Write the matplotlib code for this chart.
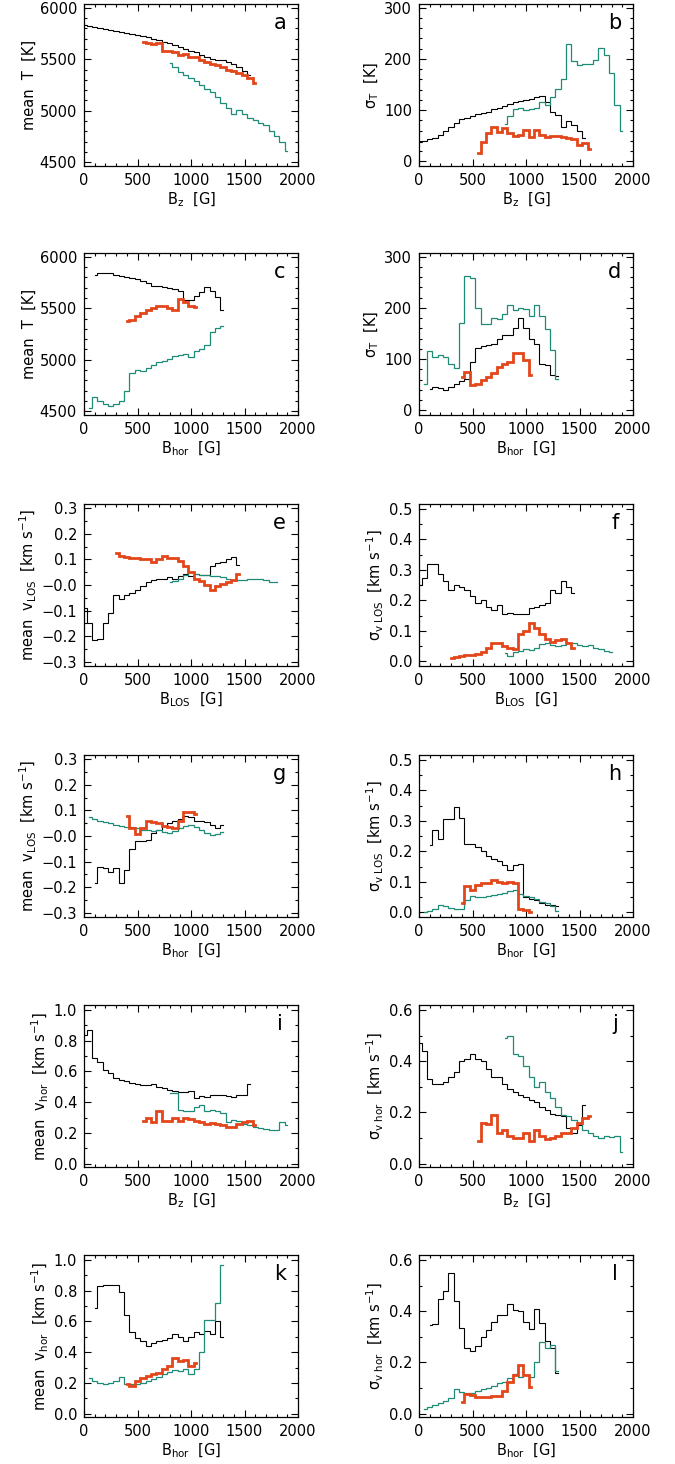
import matplotlib
matplotlib.use("Agg")
import matplotlib.pyplot as plt
from matplotlib.ticker import MultipleLocator, FixedLocator, FixedFormatter

plt.rcParams["font.family"] = ["DejaVu Sans"]
plt.rcParams["mathtext.default"] = "regular"

# bin centres of the field-strength histograms [G]
BINS = [0, 50, 100, 150, 200, 250, 300, 350, 400, 450, 500, 550, 600, 650,
        700, 750, 800, 850, 900, 950, 1000, 1050, 1100, 1150, 1200, 1250,
        1300, 1350, 1400, 1450, 1500, 1550, 1600, 1650, 1700, 1750, 1800,
        1850, 1900]

# (a) mean T vs Bz
a_black_from = 0
a_black = [5830, 5825, 5815, 5805, 5795, 5785, 5775, 5765, 5755, 5745, 5735,
           5725, 5712, 5700, 5690, 5670, 5655, 5640, 5620, 5600, 5580, 5565,
           5545, 5525, 5505, 5495, 5490, 5470, 5455, 5420, 5385, 5345]
a_orange_from = 550
a_orange = [5670, 5660, 5645, 5660, 5580, 5575, 5565, 5540, 5550, 5525, 5520,
            5490, 5470, 5450, 5440, 5425, 5400, 5385, 5370, 5345, 5320, 5270]
a_teal_from = 800
a_teal = [5465, 5420, 5380, 5350, 5320, 5290, 5250, 5215, 5180, 5135, 5080,
          5030, 4965, 5010, 4965, 4930, 4910, 4880, 4860, 4800, 4760, 4700, 4610]

# (b) sigma T vs Bz
b_black_from = 0
b_black = [38, 40, 44, 46, 52, 60, 68, 75, 82, 85, 88, 92, 94, 97, 102, 104,
           108, 112, 115, 117, 120, 122, 125, 127, 116, 97, 90, 68, 78, 70, 60, 45]
b_orange_from = 550
b_orange = [16, 38, 55, 68, 58, 65, 55, 50, 52, 62, 48, 62, 52, 48, 50, 50,
            48, 45, 43, 32, 35, 25]
b_teal_from = 800
b_teal = [73, 88, 103, 105, 100, 102, 105, 115, 110, 125, 142, 160, 228, 195,
          188, 190, 190, 198, 222, 207, 173, 110, 60]

# (c) mean T vs Bhor
c_black_from = 100
c_black = [5820, 5840, 5845, 5840, 5825, 5810, 5800, 5790, 5780, 5765, 5745,
           5720, 5715, 5710, 5700, 5690, 5670, 5580, 5580, 5620, 5660, 5710,
           5670, 5610, 5480]
c_orange_from = 400
c_orange = [5375, 5385, 5425, 5450, 5480, 5500, 5520, 5525, 5505, 5480, 5585,
            5560, 5520, 5515]
c_teal_from = 50
c_teal = [4530, 4640, 4600, 4570, 4550, 4570, 4600, 4700, 4870, 4900, 4890,
          4920, 4950, 4980, 4990, 5010, 5040, 5050, 5060, 5030, 5090, 5100,
          5140, 5270, 5310, 5330]

# (d) sigma T vs Bhor
d_black_from = 100
d_black = [42, 45, 44, 40, 45, 52, 58, 62, 95, 122, 125, 127, 130, 140, 147,
           148, 160, 180, 160, 140, 130, 90, 88, 70, 67]
d_orange_from = 400
d_orange = [65, 75, 50, 52, 60, 65, 72, 85, 90, 95, 112, 112, 98, 70]
d_teal_from = 50
d_teal = [52, 115, 105, 108, 105, 90, 82, 170, 262, 258, 200, 168, 168, 180,
          178, 188, 205, 195, 200, 198, 185, 205, 185, 158, 118, 62]

# (e) mean vLOS vs BLOS
e_black_from = 0
e_black = [-0.09, -0.15, -0.215, -0.21, -0.15, -0.11, -0.04, -0.055, -0.04,
           -0.03, -0.02, -0.005, 0.01, 0.02, 0.025, 0.025, 0.03, 0.025, 0.035,
           0.045, 0.035, 0.045, 0.04, 0.04, 0.075, 0.085, 0.09, 0.1, 0.11, 0.08]
e_orange_from = 300
e_orange = [0.125, 0.115, 0.11, 0.105, 0.105, 0.1, 0.1, 0.09, 0.1, 0.115,
            0.105, 0.105, 0.095, 0.075, 0.05, 0.025, 0.015, 0.0, -0.02,
            -0.005, 0.005, 0.012, 0.02, 0.045]
e_teal_from = 800
e_teal = [0.012, 0.015, 0.025, 0.04, 0.05, 0.045, 0.04, 0.04, 0.035, 0.035,
          0.03, 0.025, 0.02, 0.02, 0.02, 0.025, 0.025, 0.022, 0.02, 0.012, 0.01]

# (f) sigma vLOS vs BLOS
f_black_from = 0
f_black = [0.25, 0.275, 0.32, 0.32, 0.285, 0.265, 0.235, 0.25, 0.245, 0.235,
           0.215, 0.19, 0.2, 0.18, 0.17, 0.185, 0.155, 0.16, 0.155, 0.155,
           0.155, 0.175, 0.18, 0.185, 0.19, 0.235, 0.225, 0.265, 0.245, 0.225]
f_orange_from = 300
f_orange = [0.01, 0.015, 0.018, 0.02, 0.02, 0.025, 0.03, 0.045, 0.06, 0.06,
            0.05, 0.045, 0.04, 0.09, 0.1, 0.125, 0.11, 0.09, 0.075, 0.065,
            0.07, 0.075, 0.06, 0.045]
f_teal_from = 800
f_teal = [0.027, 0.018, 0.03, 0.035, 0.04, 0.038, 0.045, 0.058, 0.06, 0.055,
          0.05, 0.055, 0.06, 0.06, 0.055, 0.05, 0.055, 0.045, 0.04, 0.035, 0.03]

# (g) mean vLOS vs Bhor
g_black_from = 100
g_black = [-0.185, -0.12, -0.125, -0.14, -0.125, -0.185, -0.135, -0.05,
           -0.02, -0.02, -0.015, 0.01, 0.025, 0.04, 0.05, 0.06, 0.065, 0.08,
           0.075, 0.06, 0.06, 0.055, 0.045, 0.03, 0.045]
g_orange_from = 400
g_orange = [0.08, 0.03, 0.008, 0.03, 0.06, 0.055, 0.05, 0.04, 0.035, 0.03,
            0.06, 0.095, 0.095, 0.085]
g_teal_from = 50
g_teal = [0.075, 0.065, 0.06, 0.055, 0.05, 0.045, 0.04, 0.037, 0.035, 0.03,
          0.025, 0.025, 0.02, 0.025, 0.015, 0.012, 0.02, 0.03, 0.04, 0.045,
          0.035, 0.025, 0.01, 0.002, 0.008, 0.015]

# (h) sigma vLOS vs Bhor
h_black_from = 100
h_black = [0.22, 0.27, 0.24, 0.305, 0.305, 0.345, 0.31, 0.225, 0.225, 0.215,
           0.2, 0.185, 0.175, 0.17, 0.155, 0.14, 0.155, 0.16, 0.05, 0.045,
           0.04, 0.03, 0.025, 0.025, 0.02]
h_orange_from = 400
h_orange = [0.03, 0.085, 0.075, 0.09, 0.095, 0.095, 0.105, 0.1, 0.095, 0.1,
            0.095, 0.012, 0.008, 0.002]
h_teal_from = 50
h_teal = [0.0, 0.005, 0.01, 0.025, 0.02, 0.015, 0.01, 0.012, 0.04, 0.055,
          0.05, 0.05, 0.055, 0.058, 0.06, 0.065, 0.07, 0.075, 0.06, 0.055,
          0.05, 0.045, 0.035, 0.03, 0.02, 0.005]

# (i) mean vhor vs Bz
i_black_from = 0
i_black = [0.84, 0.87, 0.69, 0.66, 0.61, 0.59, 0.56, 0.545, 0.535, 0.525,
           0.52, 0.51, 0.51, 0.52, 0.5, 0.49, 0.48, 0.47, 0.465, 0.465, 0.47,
           0.43, 0.44, 0.435, 0.445, 0.45, 0.445, 0.44, 0.435, 0.445, 0.45, 0.52]
i_orange_from = 550
i_orange = [0.28, 0.3, 0.27, 0.34, 0.28, 0.28, 0.3, 0.28, 0.3, 0.29, 0.28,
            0.27, 0.26, 0.265, 0.255, 0.25, 0.24, 0.24, 0.26, 0.27, 0.28, 0.25]
i_teal_from = 800
i_teal = [0.46, 0.46, 0.35, 0.34, 0.34, 0.37, 0.38, 0.34, 0.35, 0.345, 0.33,
          0.27, 0.285, 0.28, 0.26, 0.25, 0.24, 0.235, 0.225, 0.22, 0.22, 0.27, 0.25]

# (j) sigma vhor vs Bz
j_black_from = 0
j_black = [0.47, 0.44, 0.33, 0.31, 0.31, 0.32, 0.34, 0.36, 0.4, 0.41, 0.43,
           0.41, 0.4, 0.37, 0.34, 0.34, 0.31, 0.29, 0.28, 0.27, 0.26, 0.25,
           0.24, 0.22, 0.21, 0.195, 0.19, 0.185, 0.14, 0.12, 0.15, 0.23]
j_orange_from = 550
j_orange = [0.09, 0.16, 0.155, 0.19, 0.12, 0.13, 0.11, 0.1, 0.1, 0.12, 0.09,
            0.13, 0.11, 0.095, 0.1, 0.11, 0.12, 0.12, 0.14, 0.16, 0.18, 0.185]
j_teal_from = 800
j_teal = [0.49, 0.5, 0.43, 0.42, 0.38, 0.34, 0.3, 0.32, 0.28, 0.255, 0.22,
          0.19, 0.185, 0.17, 0.16, 0.13, 0.12, 0.11, 0.1, 0.11, 0.105, 0.11, 0.045]

# (k) mean vhor vs Bhor
k_black_from = 100
k_black = [0.69, 0.83, 0.84, 0.835, 0.84, 0.79, 0.64, 0.53, 0.49, 0.47, 0.44,
           0.46, 0.47, 0.48, 0.49, 0.52, 0.5, 0.47, 0.5, 0.53, 0.52, 0.54,
           0.52, 0.6, 0.5]
k_orange_from = 400
k_orange = [0.19, 0.18, 0.21, 0.23, 0.245, 0.255, 0.265, 0.29, 0.31, 0.36,
            0.34, 0.35, 0.31, 0.33]
k_teal_from = 50
k_teal = [0.235, 0.21, 0.2, 0.19, 0.2, 0.215, 0.24, 0.19, 0.19, 0.19, 0.2,
          0.215, 0.225, 0.24, 0.255, 0.27, 0.285, 0.28, 0.29, 0.26, 0.29, 0.4,
          0.61, 0.61, 0.72, 0.97]

# (l) sigma vhor vs Bhor
l_black_from = 100
l_black = [0.345, 0.35, 0.45, 0.48, 0.55, 0.44, 0.335, 0.255, 0.245, 0.265,
           0.3, 0.325, 0.36, 0.385, 0.385, 0.43, 0.405, 0.4, 0.36, 0.33, 0.41,
           0.355, 0.285, 0.255, 0.16]
l_orange_from = 400
l_orange = [0.045, 0.075, 0.072, 0.065, 0.065, 0.067, 0.068, 0.07, 0.088,
            0.125, 0.15, 0.19, 0.15, 0.105]
l_teal_from = 50
l_teal = [0.02, 0.028, 0.035, 0.042, 0.05, 0.06, 0.095, 0.085, 0.08, 0.082,
          0.088, 0.095, 0.1, 0.108, 0.118, 0.125, 0.138, 0.155, 0.145, 0.15,
          0.145, 0.2, 0.28, 0.255, 0.27, 0.165]

BLACK = "black"
TEAL = "#1e8b78"
ORANGE = "#e2461a"

XLAB = {"z": "B$_z$  [G]", "hor": "B$_{hor}$  [G]", "los": "B$_{LOS}$  [G]"}
KMS = "[km s$^{-1}$]"


def span(start, vals):
    i = BINS.index(start)
    return BINS[i:i + len(vals)]


def draw_panel(ax, series, ylim, yticks, ylabels, yminor, letter, xlabel, ylabel):
    for start, vals, color, lw in series:
        ax.plot(span(start, vals), vals, drawstyle="steps-mid", color=color,
                linewidth=lw, solid_joinstyle="miter")
    ax.set_xlim(0, 2000)
    ax.set_ylim(*ylim)
    ax.xaxis.set_major_locator(FixedLocator([0, 500, 1000, 1500, 2000]))
    ax.xaxis.set_minor_locator(MultipleLocator(100))
    ax.yaxis.set_major_locator(FixedLocator(yticks))
    ax.yaxis.set_major_formatter(FixedFormatter(ylabels))
    ax.yaxis.set_minor_locator(MultipleLocator(yminor))
    ax.tick_params(which="both", direction="in", top=True, right=True,
                   labelsize=10.5, width=0.8)
    ax.tick_params(which="major", length=5, pad=5)
    ax.tick_params(which="minor", length=2.5)
    for sp in ax.spines.values():
        sp.set_linewidth(0.9)
    ax.set_xlabel(xlabel, fontsize=10.5, labelpad=2)
    ax.set_ylabel(ylabel, fontsize=10.5, labelpad=2)
    ax.text(0.915, 0.885, letter, transform=ax.transAxes, fontsize=15,
            ha="center", va="center", color="black")


def trio(black_from, black, orange_from, orange, teal_from, teal):
    return [(black_from, black, BLACK, 0.8),
            (teal_from, teal, TEAL, 0.9),
            (orange_from, orange, ORANGE, 2.0)]


T_TICKS = [4500, 5000, 5500, 6000]
T_LAB = ["4500", "5000", "5500", "6000"]
S_TICKS = [0, 100, 200, 300]
S_LAB = ["0", "100", "200", "300"]
V_TICKS = [-0.3, -0.2, -0.1, 0.0, 0.1, 0.2, 0.3]
V_LAB = ["\u22120.3", "\u22120.2", "\u22120.1", "\u22120.0", "0.1", "0.2", "0.3"]
SV_TICKS = [0.0, 0.1, 0.2, 0.3, 0.4, 0.5]
SV_LAB = ["0.0", "0.1", "0.2", "0.3", "0.4", "0.5"]
H_TICKS = [0.0, 0.2, 0.4, 0.6, 0.8, 1.0]
H_LAB = ["0.0", "0.2", "0.4", "0.6", "0.8", "1.0"]
SH_TICKS = [0.0, 0.2, 0.4, 0.6]
SH_LAB = ["0.0", "0.2", "0.4", "0.6"]

W, H = 675, 1464
fig = plt.figure(figsize=(W / 100, H / 100), dpi=100)
col_left = [84, 419]
row_top = [4, 253, 504, 755, 1005, 1255]
ax_w, ax_h = 214, 162
axes = []
for r in range(6):
    for c in range(2):
        axes.append(fig.add_axes([col_left[c] / W, 1 - (row_top[r] + ax_h) / H,
                                  ax_w / W, ax_h / H]))

T_LIM = (4465, 6035)
S_LIM = (-9, 307)
V_LIM = (-0.317, 0.317)
SV_LIM = (-0.015, 0.516)
H_LIM = (-0.022, 1.033)
SH_LIM = (-0.013, 0.62)

draw_panel(axes[0], trio(a_black_from, a_black, a_orange_from, a_orange, a_teal_from, a_teal),
           T_LIM, T_TICKS, T_LAB, 100, "a", XLAB["z"], "mean  T  [K]")
draw_panel(axes[1], trio(b_black_from, b_black, b_orange_from, b_orange, b_teal_from, b_teal),
           S_LIM, S_TICKS, S_LAB, 20, "b", XLAB["z"], "\u03c3$_T$  [K]")
draw_panel(axes[2], trio(c_black_from, c_black, c_orange_from, c_orange, c_teal_from, c_teal),
           T_LIM, T_TICKS, T_LAB, 100, "c", XLAB["hor"], "mean  T  [K]")
draw_panel(axes[3], trio(d_black_from, d_black, d_orange_from, d_orange, d_teal_from, d_teal),
           S_LIM, S_TICKS, S_LAB, 20, "d", XLAB["hor"], "\u03c3$_T$  [K]")
draw_panel(axes[4], trio(e_black_from, e_black, e_orange_from, e_orange, e_teal_from, e_teal),
           V_LIM, V_TICKS, V_LAB, 0.05, "e", XLAB["los"], "mean  v$_{LOS}$  " + KMS)
draw_panel(axes[5], trio(f_black_from, f_black, f_orange_from, f_orange, f_teal_from, f_teal),
           SV_LIM, SV_TICKS, SV_LAB, 0.05, "f", XLAB["los"], "\u03c3$_{v\\ LOS}$  " + KMS)
draw_panel(axes[6], trio(g_black_from, g_black, g_orange_from, g_orange, g_teal_from, g_teal),
           V_LIM, V_TICKS, V_LAB, 0.05, "g", XLAB["hor"], "mean  v$_{LOS}$  " + KMS)
draw_panel(axes[7], trio(h_black_from, h_black, h_orange_from, h_orange, h_teal_from, h_teal),
           SV_LIM, SV_TICKS, SV_LAB, 0.05, "h", XLAB["hor"], "\u03c3$_{v\\ LOS}$  " + KMS)
draw_panel(axes[8], trio(i_black_from, i_black, i_orange_from, i_orange, i_teal_from, i_teal),
           H_LIM, H_TICKS, H_LAB, 0.1, "i", XLAB["z"], "mean  v$_{hor}$  " + KMS)
draw_panel(axes[9], trio(j_black_from, j_black, j_orange_from, j_orange, j_teal_from, j_teal),
           SH_LIM, SH_TICKS, SH_LAB, 0.1, "j", XLAB["z"], "\u03c3$_{v\\ hor}$  " + KMS)
draw_panel(axes[10], trio(k_black_from, k_black, k_orange_from, k_orange, k_teal_from, k_teal),
           H_LIM, H_TICKS, H_LAB, 0.1, "k", XLAB["hor"], "mean  v$_{hor}$  " + KMS)
draw_panel(axes[11], trio(l_black_from, l_black, l_orange_from, l_orange, l_teal_from, l_teal),
           SH_LIM, SH_TICKS, SH_LAB, 0.1, "l", XLAB["hor"], "\u03c3$_{v\\ hor}$  " + KMS)

fig.savefig("out.png", dpi=100)
